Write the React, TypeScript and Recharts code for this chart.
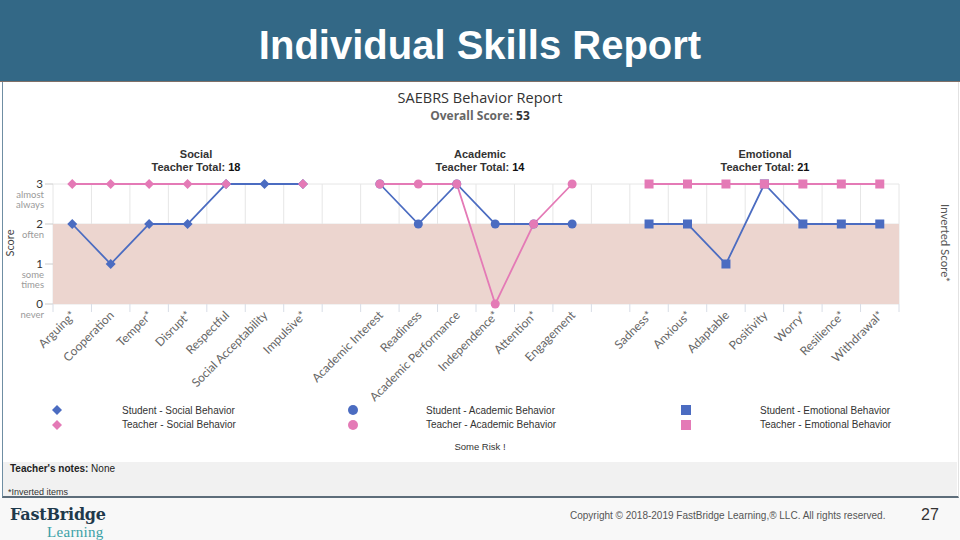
import React from "react";
import { ComposedChart, Line, XAxis, YAxis, CartesianGrid, ReferenceArea } from "recharts";

const socialItems = ["Arguing*", "Cooperation", "Temper*", "Disrupt*", "Respectful", "Social Acceptability", "Impulsive*"];
const socialStudent = [2, 1, 2, 2, 3, 3, 3];
const socialTeacher = [3, 3, 3, 3, 3, null, 3];

const academicItems = ["Academic Interest", "Readiness", "Academic Performance", "Independence*", "Attention*", "Engagement"];
const academicStudent = [3, 2, 3, 2, 2, 2];
const academicTeacher = [3, 3, 3, 0, 2, 3];

const emotionalItems = ["Sadness*", "Anxious*", "Adaptable", "Positivity", "Worry*", "Resilience*", "Withdrawal*"];
const emotionalStudent = [2, 2, 1, 3, 2, 2, 2];
const emotionalTeacher = [3, 3, 3, 3, 3, 3, 3];

const scoreTicks = [0, 1, 2, 3];
const scoreLabels = ["never", "some times", "often", "almost always"];
const invertedLabels = ["almost always", "often", "some times", "never"];

const sections = [
  { title: "Social", total: 18 },
  { title: "Academic", total: 14 },
  { title: "Emotional", total: 21 },
];

const legendItems = [
  ["Student - Social Behavior", "Teacher - Social Behavior"],
  ["Student - Academic Behavior", "Teacher - Academic Behavior"],
  ["Student - Emotional Behavior", "Teacher - Emotional Behavior"],
];

const BLUE = "#4b6cc1";
const PINK = "#e47ab6";

type Row = { name: string; [k: string]: string | number | null };
const rows: Row[] = [];
socialItems.forEach((name, i) => rows.push({ name, socialStudent: socialStudent[i], socialTeacher: socialTeacher[i] }));
rows.push({ name: " " });
academicItems.forEach((name, i) => rows.push({ name, academicStudent: academicStudent[i], academicTeacher: academicTeacher[i] }));
rows.push({ name: "  " });
emotionalItems.forEach((name, i) => rows.push({ name, emotionalStudent: emotionalStudent[i], emotionalTeacher: emotionalTeacher[i] }));

const CHART_W = 960;
const LEFT_W = 53;
const RIGHT_W = 61;
const BAND = (CHART_W - LEFT_W - RIGHT_W) / rows.length;

function makeDot(shape: "diamond" | "circle" | "square", color: string) {
  return (props: any) => {
    const { cx, cy, index } = props;
    if (cx == null || cy == null) return <g key={index} />;
    if (shape === "circle") return <circle key={index} cx={cx} cy={cy} r={4.5} fill={color} />;
    if (shape === "square") return <rect key={index} x={cx - 4.5} y={cy - 4.5} width={9} height={9} fill={color} />;
    const r = 5;
    return <path key={index} d={`M${cx},${cy - r}L${cx + r},${cy}L${cx},${cy + r}L${cx - r},${cy}Z`} fill={color} />;
  };
}

function XTick(props: any) {
  const { x, y, payload, index } = props;
  const label = String(payload.value).trim();
  return (
    <g>
      <line x1={x - BAND / 2} x2={x - BAND / 2} y1={y} y2={y + 8} stroke="#d8dde6" />
      {index === rows.length - 1 && <line x1={x + BAND / 2} x2={x + BAND / 2} y1={y} y2={y + 8} stroke="#d8dde6" />}
      {label && (
        <text x={x + 4} y={y + 12} textAnchor="end" transform={`rotate(-45 ${x + 4} ${y + 12})`} fontSize={12} fill="#666" fontFamily="Lato, 'Open Sans', sans-serif">
          {label}
        </text>
      )}
    </g>
  );
}

function LeftTick(props: any) {
  const { x, y, payload } = props;
  const sub = scoreLabels[payload.value].split(" ");
  return (
    <g fontFamily="Lato, 'Open Sans', sans-serif">
      <text x={x} y={y + 4} textAnchor="end" fontSize={11.5} fill="#333">{payload.value}</text>
      {sub.map((s, i) => (
        <text key={i} x={x + 1} y={y + 14 + i * 10} textAnchor="end" fontSize={9.5} fill="#9a9a9a">{s}</text>
      ))}
    </g>
  );
}

function RightTick(props: any) {
  const { x, y, payload } = props;
  const sub = invertedLabels[payload.value].split(" ");
  return (
    <g fontFamily="Lato, 'Open Sans', sans-serif">
      <text x={x + 2} y={y + 4} fontSize={11.5} fill="#333">
        {payload.value}
        <tspan fontSize={7} dy={-4}>*</tspan>
      </text>
      {sub.map((s, i) => (
        <text key={i} x={x + 2} y={y + 14 + i * 10} fontSize={9.5} fill="#9a9a9a">{s}</text>
      ))}
    </g>
  );
}

function Marker({ shape, color }: { shape: string; color: string }) {
  return (
    <svg width={12} height={12} style={{ position: "absolute" }}>
      {shape === "diamond" && <path d="M6,1L11,6L6,11L1,6Z" fill={color} />}
      {shape === "circle" && <circle cx={6} cy={6} r={5} fill={color} />}
      {shape === "square" && <rect x={1} y={1} width={10} height={10} fill={color} />}
    </svg>
  );
}

const abs = (s: React.CSSProperties): React.CSSProperties => ({ position: "absolute", ...s });

export default function App() {
  const sectionX = [196, 480, 765];
  const legendCols = [
    { mx: 51, tx: 122, shape: "diamond" },
    { mx: 347, tx: 426, shape: "circle" },
    { mx: 680, tx: 760, shape: "square" },
  ];
  return (
    <div style={abs({ left: 0, top: 0, width: 960, height: 540, background: "#fff", overflow: "hidden", fontFamily: "'Liberation Sans', Arial, sans-serif" })}>
      {/* header */}
      <div style={abs({ left: 0, top: 0, width: 960, height: 81, background: "#336886", borderBottom: "1px solid #7f7068" })} />
      <div style={abs({ left: 0, top: 22, width: 960, textAlign: "center", color: "#fff", fontWeight: 700, fontSize: 40, lineHeight: "46px" })}>
        Individual Skills Report
      </div>

      {/* chart frame */}
      <div style={abs({ left: 2, top: 82, width: 955, height: 414, borderLeft: "1px solid #6f8ea3", borderRight: "1px solid #e2e2e2", borderBottom: "2px solid #5d6d7a" })} />
      <div style={abs({ left: 3, top: 462, width: 954, height: 34, background: "#f1f1f1" })} />

      <div style={abs({ left: 0, top: 82 })}>
        <ComposedChart width={CHART_W} height={380} data={rows} margin={{ top: 102, right: 0, bottom: 0, left: 0 }}>
          <ReferenceArea yAxisId="left" y1={0} y2={2} fill="#ecd5cf" fillOpacity={1} stroke="none" ifOverflow="visible" />
          <CartesianGrid
            yAxisId="left"
            stroke="#e6e6e6"
            verticalCoordinatesGenerator={({ offset }: any) =>
              Array.from({ length: rows.length + 1 }, (_, i) => offset.left + (i * offset.width) / rows.length)
            }
          />
          <XAxis dataKey="name" type="category" scale="band" interval={0} height={158} tickLine={false} tickSize={0} tickMargin={0} axisLine={false} tick={<XTick />} />
          <YAxis yAxisId="left" domain={[0, 3]} ticks={scoreTicks} width={LEFT_W} axisLine={false} tickSize={8} tickMargin={2} tickLine={{ stroke: "#cccccc" }} tick={<LeftTick />} />
          <YAxis yAxisId="right" orientation="right" domain={[0, 3]} ticks={scoreTicks} width={RIGHT_W} axisLine={false} tickSize={8} tickMargin={2} tickLine={{ stroke: "#cccccc" }} tick={<RightTick />} />
          <Line yAxisId="left" dataKey="socialStudent" stroke={BLUE} strokeWidth={1.8} dot={makeDot("diamond", BLUE)} isAnimationActive={false} />
          <Line yAxisId="left" dataKey="socialTeacher" stroke={PINK} strokeWidth={1.8} dot={makeDot("diamond", PINK)} isAnimationActive={false} />
          <Line yAxisId="left" dataKey="academicStudent" stroke={BLUE} strokeWidth={1.8} dot={makeDot("circle", BLUE)} isAnimationActive={false} />
          <Line yAxisId="left" dataKey="academicTeacher" stroke={PINK} strokeWidth={1.8} dot={makeDot("circle", PINK)} isAnimationActive={false} />
          <Line yAxisId="left" dataKey="emotionalStudent" stroke={BLUE} strokeWidth={1.8} dot={makeDot("square", BLUE)} isAnimationActive={false} />
          <Line yAxisId="left" dataKey="emotionalTeacher" stroke={PINK} strokeWidth={1.8} dot={makeDot("square", PINK)} isAnimationActive={false} />
        </ComposedChart>
      </div>

      {/* titles */}
      <div style={abs({ left: 0, top: 88, width: 960, textAlign: "center", fontFamily: "'Open Sans', sans-serif", fontSize: 14.5, color: "#333", lineHeight: "20px" })}>
        SAEBRS Behavior Report
      </div>
      <div style={abs({ left: 0, top: 107, width: 960, textAlign: "center", fontFamily: "'Open Sans', sans-serif", fontSize: 12, fontWeight: 700, color: "#666", lineHeight: "18px" })}>
        Overall Score: <span style={{ color: "#333" }}>53</span>
      </div>
      {sections.map((s, i) => (
        <div key={s.title} style={abs({ left: sectionX[i] - 100, top: 148, width: 200, textAlign: "center", fontSize: 11, fontWeight: 700, color: "#333", lineHeight: "12.5px" })}>
          {s.title}
          <br />
          Teacher Total: <span style={{ color: "#111" }}>{s.total}</span>
        </div>
      ))}

      {/* axis titles */}
      <div style={abs({ left: -20, top: 236, width: 60, textAlign: "center", transform: "rotate(-90deg)", fontFamily: "Lato, sans-serif", fontSize: 11, color: "#444", lineHeight: "14px" })}>Score</div>
      <div style={abs({ left: 895, top: 236, width: 100, textAlign: "center", transform: "rotate(90deg)", fontFamily: "Lato, sans-serif", fontSize: 11.5, color: "#555", lineHeight: "14px" })}>Inverted Score*</div>

      {/* legend */}
      {legendCols.map((c, i) => (
        <React.Fragment key={i}>
          <div style={abs({ left: c.mx, top: 404 })}><Marker shape={c.shape} color={BLUE} /></div>
          <div style={abs({ left: c.mx, top: 419 })}><Marker shape={c.shape} color={PINK} /></div>
          <div style={abs({ left: c.tx, top: 405, fontSize: 10, color: "#333", lineHeight: "12px", whiteSpace: "nowrap" })}>{legendItems[i][0]}</div>
          <div style={abs({ left: c.tx, top: 419, fontSize: 10, color: "#333", lineHeight: "12px", whiteSpace: "nowrap" })}>{legendItems[i][1]}</div>
        </React.Fragment>
      ))}
      <div style={abs({ left: 0, top: 441, width: 960, textAlign: "center", fontSize: 9.5, color: "#333", lineHeight: "12px" })}>Some Risk !</div>

      {/* notes */}
      <div style={abs({ left: 10, top: 463, fontSize: 10, color: "#222", lineHeight: "12px" })}>
        <b>Teacher's notes:</b> None
      </div>
      <div style={abs({ left: 8, top: 486, fontSize: 9, color: "#333", lineHeight: "12px" })}>*Inverted items</div>

      {/* footer */}
      <div style={abs({ left: 0, top: 498, width: 960, height: 42, background: "#f8f8f8" })} />
      <div style={abs({ left: 10, top: 507, fontFamily: "'DejaVu Serif', serif", fontWeight: 700, fontSize: 16, color: "#1f3a4c", letterSpacing: -0.2, lineHeight: "16px" })}>FastBridge</div>
      <div style={abs({ left: 47, top: 525, fontFamily: "'Liberation Serif', serif", fontSize: 15, color: "#3aa1a6", letterSpacing: 0.3, lineHeight: "14px" })}>Learning</div>
      <div style={abs({ left: 570, top: 510, fontSize: 10, color: "#555", lineHeight: "12px", whiteSpace: "nowrap" })}>
        Copyright © 2018-2019 FastBridge Learning,® LLC. All rights reserved.
      </div>
      <div style={abs({ left: 921, top: 505, fontSize: 16, color: "#333", lineHeight: "20px" })}>27</div>
    </div>
  );
}
